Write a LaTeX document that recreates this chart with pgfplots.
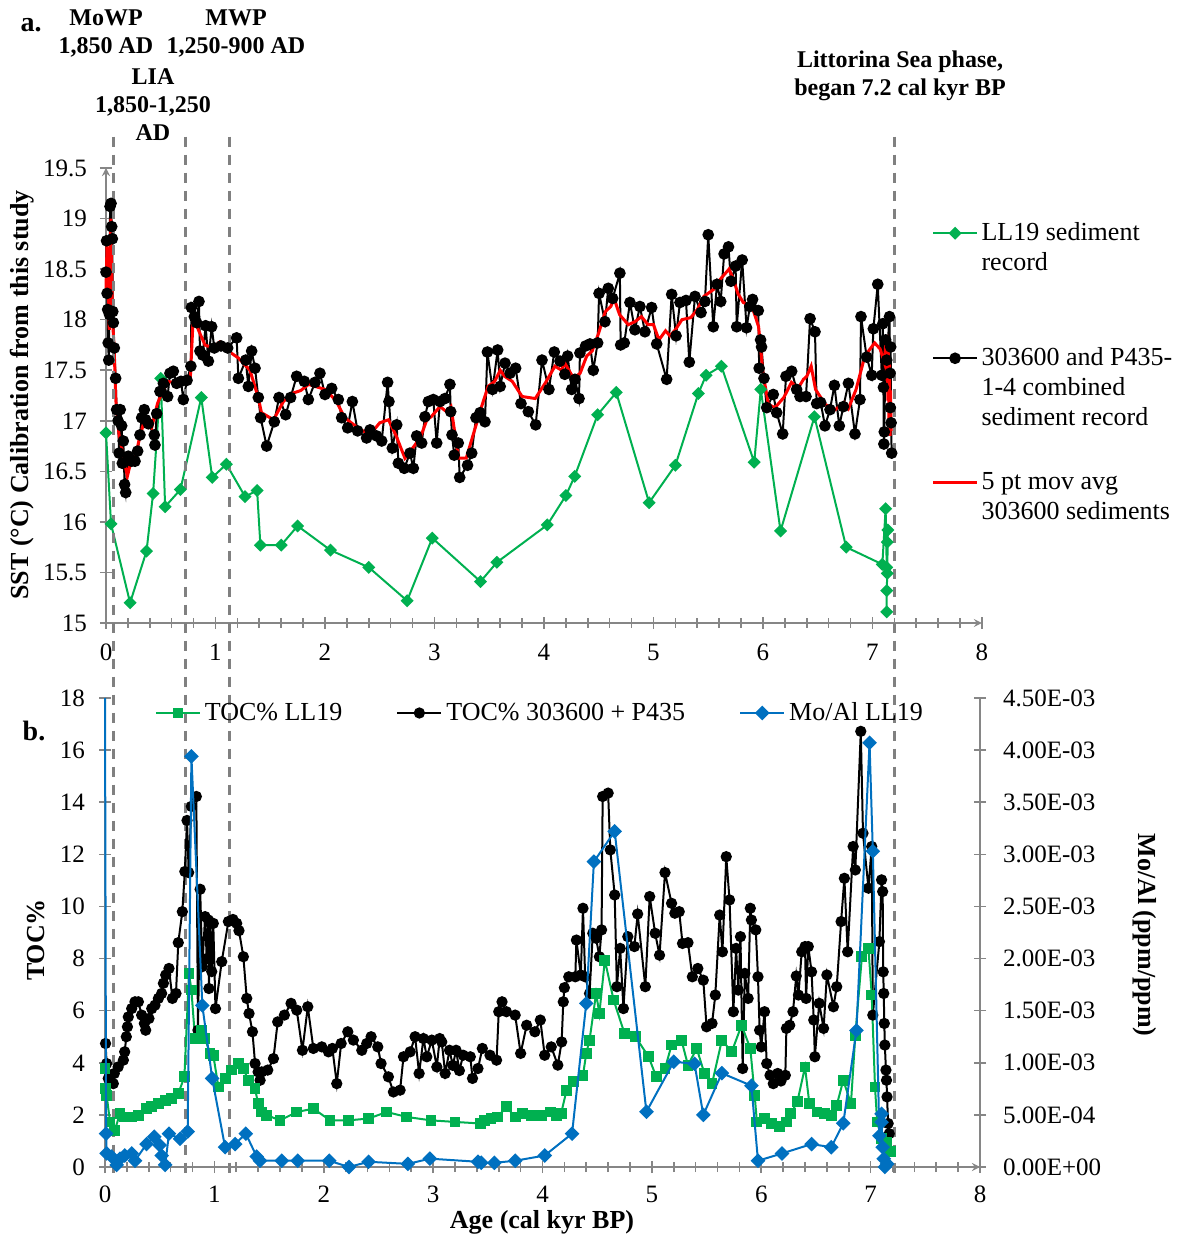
\documentclass[border=0pt]{standalone}
\usepackage{fontspec}
\setmainfont{Liberation Serif}
\usepackage{pgfplots}
\pgfplotsset{compat=1.18}
\definecolor{llgreen}{RGB}{0,176,80}
\definecolor{moblue}{RGB}{0,112,192}
\definecolor{axgray}{RGB}{134,134,134}
\definecolor{dashgray}{RGB}{128,128,128}
\tikzset{refline/.style={dashgray, line width=1.5pt, dash pattern=on 5pt off 4pt}}
\pgfplotsset{
  base/.style={
    scale only axis, anchor=south west,
    xmin=0, xmax=8, xtick={0,1,...,8}, minor x tick num=4,
    axis line style={-, draw=axgray, line width=0.8pt},
    tick style={draw=axgray, line width=0.8pt},
    major tick length=6pt, minor tick length=5pt, tick align=center,
    ticklabel style={font=\fontsize{12.5}{14}\selectfont, text=black},
    /pgf/number format/assume math mode=true,
    legend image code/.code={\draw[mark repeat=2,mark phase=2,#1] plot coordinates {(0pt,0pt) (11pt,0pt) (22pt,0pt)};},
  },
}
\begin{document}
\begin{tikzpicture}
\useasboundingbox (0,0) rectangle (590.5pt,618pt);
% ---------------- panel a ----------------
\begin{axis}[base,
  at={(53pt,306.5pt)}, width=438pt, height=227.5pt,
  ymin=15, ymax=19.5, ytick={15,15.5,...,19.5},
  xticklabel style={yshift=-4pt},
  yticklabel style={xshift=-3pt},
  axis x line=bottom, axis y line=left,
  clip=false,
  legend cell align=left,
  legend image code/.code={\draw[mark repeat=2,mark phase=2,yshift=15pt,#1] plot coordinates {(0pt,0pt) (11pt,0pt) (22pt,0pt)};},
  legend style={at={(0.942,0.885)}, anchor=north west, draw=none, fill=none, inner sep=0pt,
    row sep=20pt, font=\fontsize{13}{15}\selectfont, nodes={align=left, inner sep=1pt},
    /tikz/every odd column/.style={column sep=0.5pt}},
]
\addplot[llgreen, line width=1pt, mark=square*, mark size=1.8pt, mark options={rotate=45}] coordinates {
(0.0,16.88)(0.046,15.98)(0.22,15.20)(0.37,15.71)(0.43,16.28)(0.50,17.42)(0.54,16.15)(0.68,16.32)
(0.87,17.23)(0.97,16.44)(1.10,16.57)(1.27,16.25)(1.38,16.31)(1.41,15.77)(1.60,15.77)(1.75,15.96)
(2.05,15.72)(2.40,15.55)(2.75,15.22)(2.98,15.84)(3.42,15.41)(3.57,15.60)(4.03,15.97)(4.20,16.26)
(4.28,16.45)(4.49,17.06)(4.66,17.28)(4.96,16.19)(5.20,16.56)(5.41,17.27)(5.48,17.45)(5.62,17.54)
(5.92,16.59)(5.98,17.31)(6.16,15.91)(6.47,17.04)(6.76,15.75)(7.09,15.58)(7.12,16.13)(7.13,15.55)
(7.135,15.80)(7.14,15.92)(7.135,15.49)(7.13,15.32)(7.13,15.11)
};
\addlegendentry{LL19 sediment\\record\\\strut}
\addplot[black, line width=1pt, mark=*, mark size=2.4pt] coordinates {
(0.000,18.47)(0.005,18.78)(0.010,18.26)(0.015,18.10)(0.020,17.77)(0.025,17.60)(0.032,18.05)(0.037,19.12)
(0.046,19.15)(0.052,18.92)(0.058,18.80)(0.062,18.08)(0.067,17.97)(0.076,17.72)(0.088,17.42)(0.097,17.11)
(0.110,17.00)(0.120,16.68)(0.130,17.11)(0.143,16.95)(0.149,16.58)(0.158,16.80)(0.170,16.37)(0.180,16.29)
(0.204,16.65)(0.234,16.60)(0.265,16.60)(0.289,16.70)(0.310,16.86)(0.326,17.03)(0.350,17.11)(0.362,17.01)
(0.387,16.97)(0.441,16.86)(0.447,16.76)(0.463,17.07)(0.493,17.29)(0.524,17.37)(0.563,17.24)(0.584,17.47)
(0.615,17.49)(0.645,17.37)(0.685,17.39)(0.706,17.21)(0.740,17.40)(0.775,17.54)(0.780,18.12)(0.807,18.03)
(0.828,17.97)(0.849,18.18)(0.858,17.69)(0.883,17.65)(0.910,17.94)(0.935,17.59)(0.965,17.93)(0.989,17.72)
(1.050,17.74)(1.111,17.72)(1.193,17.82)(1.209,17.42)(1.276,17.60)(1.300,17.34)(1.330,17.69)(1.361,17.52)
(1.391,17.23)(1.412,17.03)(1.467,16.75)(1.537,16.99)(1.580,17.23)(1.641,17.06)(1.686,17.23)(1.741,17.44)
(1.811,17.39)(1.848,17.21)(1.909,17.38)(1.954,17.47)(2.000,17.26)(2.061,17.32)(2.122,17.21)(2.152,17.03)
(2.207,16.93)(2.250,17.19)(2.298,16.90)(2.380,16.83)(2.411,16.91)(2.472,16.85)(2.518,16.80)(2.572,17.38)
(2.584,17.19)(2.615,16.73)(2.655,16.96)(2.670,16.58)(2.724,16.53)(2.776,16.68)(2.807,16.53)(2.837,16.85)
(2.883,16.78)(2.913,17.04)(2.944,17.19)(2.989,17.21)(3.020,16.78)(3.050,17.19)(3.096,17.22)(3.141,17.36)
(3.148,17.09)(3.160,16.86)(3.180,16.66)(3.217,16.78)(3.230,16.44)(3.302,16.56)(3.340,16.68)(3.379,17.03)
(3.416,17.08)(3.461,16.99)(3.483,17.68)(3.530,17.31)(3.577,17.70)(3.600,17.34)(3.644,17.57)(3.690,17.47)
(3.741,17.52)(3.790,17.17)(3.857,17.09)(3.924,16.96)(3.982,17.60)(4.045,17.31)(4.094,17.68)(4.146,17.59)
(4.190,17.46)(4.216,17.64)(4.253,17.31)(4.283,17.41)(4.320,17.22)(4.328,17.67)(4.380,17.74)(4.420,17.76)
(4.450,17.50)(4.490,17.77)(4.503,18.26)(4.557,17.98)(4.587,18.31)(4.627,18.21)(4.693,18.46)(4.700,17.75)
(4.733,17.77)(4.785,18.17)(4.830,17.90)(4.876,18.13)(4.922,17.88)(4.983,18.12)(5.029,17.76)(5.120,17.41)
(5.166,18.25)(5.206,17.84)(5.242,18.17)(5.297,18.19)(5.327,17.58)(5.379,18.23)(5.434,18.07)(5.470,18.18)
(5.500,18.84)(5.546,17.93)(5.580,18.35)(5.614,18.18)(5.645,18.65)(5.685,18.72)(5.707,18.38)(5.750,18.53)
(5.760,17.93)(5.810,18.59)(5.850,17.92)(5.880,18.13)(5.905,18.20)(5.957,18.09)(5.965,17.52)(5.978,17.80)
(5.987,17.73)(6.009,17.42)(6.034,17.13)(6.094,17.26)(6.125,17.08)(6.180,16.87)(6.210,17.44)(6.262,17.49)
(6.307,17.31)(6.338,17.24)(6.393,17.24)(6.430,18.01)(6.475,17.88)(6.490,17.17)(6.527,17.18)(6.566,16.95)
(6.612,17.11)(6.652,17.35)(6.697,16.95)(6.734,17.14)(6.780,17.37)(6.840,16.87)(6.886,17.21)(6.895,18.03)
(6.947,17.63)(6.993,17.45)(7.008,17.91)(7.048,18.35)(7.085,17.45)(7.094,17.96)(7.100,17.33)(7.104,16.77)
(7.108,16.89)(7.120,17.80)(7.130,17.60)(7.155,18.03)(7.160,17.47)(7.163,17.13)(7.166,17.73)(7.170,16.98)
(7.175,16.68)
};
\addlegendentry{303600 and P435-\\1-4 combined\\sediment record}
\addplot[red, line width=1.5pt] coordinates {
(0.0,18.3)(0.01,18.76)(0.03,17.9)(0.045,19.0)(0.05,18.6)(0.06,18.0)(0.075,17.7)(0.09,17.2)(0.12,16.85)
(0.15,16.7)(0.195,16.45)(0.228,16.6)(0.27,16.65)(0.30,16.8)(0.356,17.03)(0.417,16.93)(0.47,17.17)
(0.554,17.39)(0.62,17.38)(0.72,17.37)(0.77,17.42)(0.798,18.06)(0.843,17.9)(0.904,17.75)(0.97,17.72)
(1.04,17.78)(1.117,17.69)(1.21,17.62)(1.315,17.5)(1.39,17.23)(1.42,17.08)(1.53,17.01)(1.62,17.19)
(1.70,17.27)(1.78,17.3)(1.85,17.36)(2.0,17.31)(2.1,17.2)(2.18,17.03)(2.30,16.93)(2.41,16.86)(2.5,16.98)
(2.58,17.01)(2.65,16.85)(2.73,16.63)(2.78,16.7)(2.87,16.83)(2.93,17.01)(2.97,17.04)(3.05,17.14)
(3.11,17.09)(3.15,17.14)(3.22,16.63)(3.29,16.63)(3.35,16.85)(3.43,17.14)(3.49,17.34)(3.55,17.39)
(3.6,17.5)(3.64,17.44)(3.71,17.39)(3.80,17.24)(3.92,17.22)(4.01,17.37)(4.10,17.54)(4.16,17.5)(4.19,17.57)
(4.27,17.42)(4.33,17.47)(4.39,17.64)(4.44,17.69)(4.50,17.87)(4.56,18.08)(4.61,18.13)(4.64,18.21)
(4.69,18.05)(4.77,17.95)(4.83,17.98)(4.89,18.03)(4.95,17.95)(5.0,17.95)(5.05,17.8)(5.11,17.89)
(5.15,17.84)(5.2,17.9)(5.26,18.0)(5.34,18.02)(5.40,18.1)(5.46,18.23)(5.55,18.3)(5.61,18.4)(5.69,18.5)
(5.73,18.4)(5.77,18.26)(5.82,18.17)(5.9,18.13)(5.96,17.93)(6.0,17.47)(6.05,17.16)(6.11,17.13)(6.19,17.23)
(6.26,17.38)(6.32,17.32)(6.37,17.41)(6.4,17.44)(6.44,17.54)(6.48,17.31)(6.57,17.16)(6.66,17.11)
(6.74,17.18)(6.78,17.12)(6.85,17.31)(6.93,17.64)(7.02,17.77)(7.07,17.71)(7.11,17.57)(7.12,17.75)
(7.13,17.4)(7.135,17.85)(7.14,17.2)(7.145,17.7)(7.15,17.0)(7.155,17.6)(7.16,16.85)(7.165,17.3)(7.17,16.9)
};
\addlegendentry{5 pt mov avg\\303600 sediments\\\strut}
\draw[refline] (axis cs:0.073,19.81) -- (axis cs:0.073,9.55);
\draw[refline] (axis cs:0.728,19.81) -- (axis cs:0.728,9.55);
\draw[refline] (axis cs:1.126,19.81) -- (axis cs:1.126,9.55);
\draw[refline] (axis cs:7.2,19.81) -- (axis cs:7.2,9.55);
\end{axis}
% ---------------- panel b, left axis ----------------
\begin{axis}[base,
  at={(52.5pt,34.5pt)}, width=437.5pt, height=234.5pt,
  ymin=0, ymax=18, ytick={0,2,...,18},
  xticklabel style={yshift=-3pt},
  yticklabel style={xshift=-3.5pt},
  axis x line=bottom, axis y line*=left,
  legend columns=3,
  legend style={at={(0.497,0.968)}, anchor=center, draw=none, fill=none, inner sep=0pt,
    font=\fontsize{13}{15}\selectfont, nodes={inner sep=1pt},
    /tikz/every odd column/.style={column sep=1pt},
    /tikz/every even column/.style={column sep=26pt}},
]
\addlegendimage{llgreen, line width=1pt, mark=square*, mark size=2.2pt}
\addlegendentry{TOC\% LL19}
\addlegendimage{black, line width=1pt, mark=*, mark size=2.3pt}
\addlegendentry{TOC\% 303600 + P435}
\addlegendimage{moblue, line width=1pt, mark=square*, mark size=2.1pt, mark options={rotate=45}}
\addlegendentry{Mo/Al LL19}
\addplot[black, line width=1pt, mark=*, mark size=2.3pt, forget plot] coordinates {
(0.005,4.74)(0.015,3.97)(0.03,3.40)(0.076,3.20)(0.085,3.59)(0.12,3.84)(0.168,4.10)(0.18,4.42)(0.195,5.00)
(0.205,5.38)(0.213,5.76)(0.244,6.08)(0.274,6.34)(0.305,6.34)(0.335,5.83)(0.36,5.51)(0.372,5.25)(0.402,5.70)
(0.427,6.08)(0.457,6.21)(0.488,6.47)(0.518,6.66)(0.534,7.05)(0.555,7.37)(0.585,7.62)(0.616,6.47)(0.649,6.66)
(0.67,8.61)(0.707,9.80)(0.73,11.34)(0.75,13.3)(0.765,11.3)(0.79,13.84)(0.835,14.22)(0.850,5.25)(0.870,10.66)
(0.89,7.69)(0.915,9.61)(0.93,8.0)(0.945,9.48)(0.95,6.85)(0.965,9.35)(0.976,7.5)(0.99,9.35)(1.01,6.08)
(1.067,7.88)(1.128,9.42)(1.17,9.5)(1.204,9.35)(1.225,9.07)(1.265,8.07)(1.296,6.47)(1.317,5.89)(1.348,5.19)
(1.372,3.97)(1.40,3.65)(1.418,3.33)(1.433,3.65)(1.488,3.72)(1.54,4.16)(1.579,5.57)(1.64,5.83)(1.701,6.28)
(1.753,6.02)(1.805,4.48)(1.854,6.15)(1.905,4.55)(1.982,4.61)(2.043,4.42)(2.079,4.55)(2.119,3.20)(2.159,4.74)
(2.22,5.19)(2.271,4.87)(2.348,4.48)(2.393,4.74)(2.433,5.00)(2.494,4.61)(2.524,3.97)(2.591,3.46)(2.637,2.88)
(2.698,2.95)(2.729,4.23)(2.79,4.42)(2.835,5.00)(2.872,3.59)(2.911,4.93)(2.942,4.23)(2.988,4.87)(3.034,3.84)
(3.06,4.93)(3.079,4.8)(3.11,3.59)(3.15,4.48)(3.18,3.9)(3.21,4.48)(3.24,3.7)(3.275,4.29)(3.34,4.23)(3.36,3.40)
(3.41,3.78)(3.45,4.55)(3.52,4.29)(3.58,4.10)(3.60,5.96)(3.63,6.34)(3.67,5.96)(3.75,5.83)(3.80,4.36)(3.855,5.44)
(3.93,5.19)(3.98,5.64)(4.02,4.29)(4.08,4.61)(4.14,3.91)(4.175,4.80)(4.19,6.34)(4.20,6.88)(4.24,7.30)(4.30,7.30)
(4.31,8.71)(4.35,7.37)(4.37,9.93)(4.39,7.30)(4.43,6.66)(4.46,8.97)(4.49,8.78)(4.52,8.07)(4.54,9.10)(4.55,14.22)
(4.60,14.35)(4.62,12.17)(4.66,10.44)(4.68,6.92)(4.71,8.39)(4.74,6.08)(4.78,8.84)(4.84,8.46)(4.87,9.71)(4.94,6.92)
(4.98,10.38)(5.03,8.97)(5.07,8.13)(5.12,11.30)(5.18,10.12)(5.21,9.74)(5.25,9.80)(5.28,8.58)(5.33,8.61)(5.37,7.30)
(5.42,7.62)(5.47,7.17)(5.50,5.38)(5.55,5.51)(5.58,6.60)(5.62,9.67)(5.645,8.26)(5.68,11.91)(5.71,10.25)(5.745,5.96)
(5.77,8.39)(5.79,6.79)(5.81,8.84)(5.83,3.78)(5.85,7.43)(5.88,6.47)(5.90,9.93)(5.91,9.48)(5.95,9.10)(5.97,7.30)
(5.985,5.25)(6.00,4.61)(6.03,5.96)(6.05,3.97)(6.08,3.52)(6.11,3.20)(6.15,3.59)(6.18,3.3)(6.22,3.52)(6.23,5.32)
(6.26,5.44)(6.29,5.96)(6.32,7.33)(6.34,6.60)(6.37,8.26)(6.40,8.46)(6.41,6.47)(6.43,8.46)(6.46,7.49)(6.48,5.64)
(6.49,4.23)(6.53,6.28)(6.57,5.32)(6.60,7.37)(6.66,6.15)(6.69,6.92)(6.73,9.42)(6.76,11.08)(6.79,8.26)(6.84,12.30)
(6.86,11.40)(6.91,16.72)(6.93,12.81)(6.98,10.70)(7.01,12.30)(7.02,5.83)(7.08,8.65)(7.10,11.02)(7.11,10.57)
(7.115,7.49)(7.12,6.66)(7.125,5.51)(7.13,4.68)(7.14,3.72)(7.145,3.33)(7.15,2.69)(7.16,1.67)(7.17,1.28)
};
\addplot[llgreen, line width=1pt, mark=square*, mark size=2.2pt, forget plot] coordinates {
(0.0,3.78)(0.005,3.0)(0.015,2.75)(0.046,1.73)(0.09,1.41)(0.137,2.05)(0.18,1.92)(0.244,1.92)(0.305,1.99)
(0.38,2.24)(0.427,2.31)(0.488,2.43)(0.55,2.56)(0.61,2.63)(0.67,2.82)(0.726,3.46)(0.768,7.43)(0.79,6.79)
(0.823,4.93)(0.884,5.25)(0.915,4.93)(0.96,4.36)(0.99,4.29)(1.037,3.07)(1.1,3.4)(1.16,3.72)(1.22,3.97)
(1.265,3.78)(1.31,3.33)(1.372,3.01)(1.40,2.43)(1.433,2.11)(1.48,1.99)(1.6,1.79)(1.753,2.11)(1.905,2.24)
(2.058,1.79)(2.226,1.79)(2.41,1.86)(2.576,2.11)(2.76,1.92)(2.98,1.79)(3.2,1.73)(3.43,1.67)(3.47,1.79)
(3.53,1.86)(3.59,1.92)(3.67,2.31)(3.75,1.92)(3.82,2.05)(3.9,1.99)(3.99,1.99)(4.07,2.11)(4.13,1.99)(4.17,2.05)
(4.22,2.95)(4.28,3.27)(4.37,3.52)(4.4,4.36)(4.43,4.87)(4.49,6.66)(4.52,5.89)(4.57,7.94)(4.65,6.41)(4.75,5.12)
(4.85,5.0)(4.97,4.23)(5.04,3.46)(5.12,3.78)(5.18,4.68)(5.27,4.87)(5.33,3.91)(5.41,4.55)(5.48,3.59)(5.55,3.2)
(5.64,4.87)(5.73,4.42)(5.82,5.44)(5.9,4.55)(5.94,2.75)(5.96,1.73)(6.03,1.86)(6.09,1.67)(6.17,1.54)(6.23,1.73)
(6.27,2.05)(6.33,2.5)(6.4,3.84)(6.44,2.43)(6.51,2.11)(6.58,2.05)(6.64,1.99)(6.69,2.37)(6.75,3.33)(6.82,2.43)
(6.86,5.06)(6.92,8.07)(6.98,8.39)(7.01,6.6)(7.04,3.07)(7.06,1.73)(7.1,1.09)(7.15,0.96)(7.18,0.58)
};
\end{axis}
% ---------------- panel b, right axis ----------------
\begin{axis}[base,
  at={(52.5pt,34.5pt)}, width=437.5pt, height=234.5pt,
  ymin=0, ymax=0.0045,
  axis x line=none, axis y line*=right,
  ytick={0,0.0005,0.001,0.0015,0.002,0.0025,0.003,0.0035,0.004,0.0045},
  yticklabels={0.00E+00,5.00E-04,1.00E-03,1.50E-03,2.00E-03,2.50E-03,3.00E-03,3.50E-03,4.00E-03,4.50E-03},
  yticklabel style={xshift=5pt},
  scaled y ticks=false, clip=false,
]
\addplot[moblue, line width=1pt] coordinates {(0.0,0.0045)(0.01,0.00032)};
\addplot[moblue, line width=1pt, mark=square*, mark size=2.1pt, mark options={rotate=45}] coordinates {
(0.01,0.00032)(0.015,0.00013)(0.06,0.00010)(0.107,0.00002)(0.137,0.00008)(0.18,0.00011)(0.244,0.00013)
(0.274,0.00006)(0.38,0.00022)(0.45,0.00029)(0.50,0.00021)(0.518,0.00011)(0.55,0.00002)(0.585,0.00032)
(0.686,0.00027)(0.756,0.00034)(0.79,0.00394)(0.89,0.00155)(0.98,0.00085)(1.098,0.00019)(1.19,0.00022)
(1.287,0.00032)(1.387,0.00010)(1.418,0.00006)(1.616,0.00006)(1.762,0.00006)(2.05,0.00006)(2.23,0.0)
(2.41,0.00005)(2.77,0.00003)(2.97,0.00008)(3.41,0.00005)(3.44,0.00004)(3.56,0.00004)(3.75,0.00006)
(4.02,0.00011)(4.27,0.00032)(4.40,0.00157)(4.47,0.00293)(4.66,0.00322)(4.95,0.00053)(5.20,0.00101)
(5.39,0.00099)(5.47,0.00050)(5.64,0.00090)(5.91,0.00078)(5.97,0.00006)(6.19,0.00013)(6.46,0.00022)
(6.64,0.00019)(6.75,0.00042)(6.87,0.00131)(6.99,0.00407)(7.02,0.00303)(7.08,0.00030)(7.10,0.00051)
(7.10,0.00043)(7.11,0.00019)(7.12,0.00008)(7.13,0.0)(7.15,0.00003)
};
\end{axis}
% ---------------- labels and annotations ----------------
\node[font=\bfseries\fontsize{14}{16}\selectfont] at (15.5pt,605.5pt) {a.};
\node[font=\bfseries\fontsize{14}{16}\selectfont] at (17pt,252.5pt) {b.};
\node[font=\bfseries\fontsize{12}{14}\selectfont, align=center] at (53pt,601pt) {MoWP\\1,850 AD};
\node[font=\bfseries\fontsize{12}{14}\selectfont, align=center] at (118pt,601pt) {MWP\\1,250-900 AD};
\node[font=\bfseries\fontsize{12}{14}\selectfont, align=center] at (76.5pt,565.75pt) {LIA\\1,850-1,250\\AD};
\node[font=\bfseries\fontsize{12}{14}\selectfont, align=center] at (450pt,580pt) {Littorina Sea phase,\\began 7.2 cal kyr BP};
\node[font=\bfseries\fontsize{13}{15}\selectfont, rotate=90] at (11pt,420.5pt) {SST (°C) Calibration from this study};
\node[font=\bfseries\fontsize{13}{15}\selectfont, rotate=90] at (18pt,148pt) {TOC\%};
\node[font=\bfseries\fontsize{13}{15}\selectfont] at (271pt,6.8pt) {Age (cal kyr BP)};
\node[font=\bfseries\fontsize{13}{15}\selectfont, rotate=-90] at (572.5pt,150.5pt) {Mo/Al (ppm/ppm)};
\end{tikzpicture}
\end{document}
